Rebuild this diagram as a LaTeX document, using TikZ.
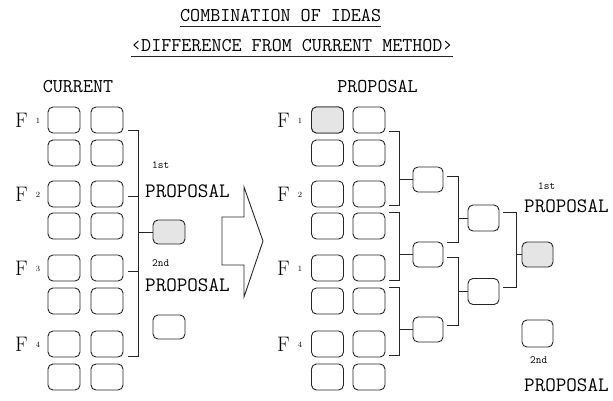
\documentclass[tikz,border=0pt]{standalone}
\usepackage{fontspec}
\usepackage{tikz}
\usetikzlibrary{calc}
\newcommand{\Fnum}[1]{F\hspace{8pt}\raisebox{4pt}{\fontsize{8}{8}\selectfont #1}}
\tikzset{
  idea/.style={draw=black!85, line width=0.9pt, rounded corners=5pt, minimum width=32pt, minimum height=26pt, inner sep=0pt},
  picked/.style={idea, fill=gray!20},
  ttl/.style={font=\fontsize{19.5}{20}\selectfont\ttfamily, inner xsep=0pt, inner ysep=5pt, anchor=base west},
  lbl/.style={font=\fontsize{19.5}{20}\selectfont\ttfamily, inner sep=0pt},
  prop/.style={font=\fontsize{20.5}{21}\selectfont\ttfamily, inner sep=0pt, anchor=west},
  rank/.style={font=\fontsize{11}{11}\selectfont\ttfamily\addfontfeature{LetterSpace=40}, inner sep=0pt, anchor=west},
  fac/.style={font=\fontsize{21}{21}\selectfont, inner sep=0pt, anchor=west},
  link/.style={draw=black!85, line width=0.9pt},
}
\begin{document}
\begin{tikzpicture}[x=1pt, y=-1pt]
\useasboundingbox (0,0) rectangle (613,400);
\node[ttl] (head) at (180,21) {COMBINATION OF IDEAS};
\node[ttl] (subhead) at (131,51) {‹DIFFERENCE FROM CURRENT METHOD›};
\draw[link] (head.south west) -- (head.south east);
\draw[link] (subhead.south west) -- (subhead.south east);
\node[lbl] (cur) at (78,87) {CURRENT};
\node[lbl] (pro) at (377.5,87) {PROPOSAL};
\foreach \r/\y in {1/120,2/153,3/194,4/226,5/268,6/301,7/344,8/377}{
  \node[idea] (cur-\r-1) at (64,\y) {};
  \node[idea] (cur-\r-2) at (107,\y) {};
  \node[idea] (pro-\r-1) at (327.5,\y) {};
  \node[idea] (pro-\r-2) at (369,\y) {};
}
\node[picked] (pro-1-1) at (327.5,120) {};
\node[fac] (fa) at (15,120) {\Fnum{1}};
\node[fac] (fb) at (15,194) {\Fnum{2}};
\node[fac] (fc) at (15,268) {\Fnum{3}};
\node[fac] (fd) at (15,344) {\Fnum{4}};
\node[fac] (ga) at (277,120) {\Fnum{1}};
\node[fac] (gb) at (277,194) {\Fnum{2}};
\node[fac] (gc) at (277,268) {\Fnum{1}};
\node[fac] (gd) at (277,344) {\Fnum{4}};
% current method
\node[picked, minimum height=24pt] (first) at (169,232) {};
\node[idea, minimum height=24pt] (second) at (169,327) {};
\draw[link] ($(cur-1-2.south east)+(5,-3)$) -- ++(10,0) |- ($(cur-7-2.south east)+(5,-1)$);
\draw[link] ($(cur-3-2.east)+(5,2)$) -- ++(10,0);
\draw[link] ($(cur-5-2.east)+(5,3)$) -- ++(10,0);
\draw[link] (first.west) -- ++(-15,0);
\node[rank] (firstno) at (152,165) {1st};
\node[prop] (firsttxt) at (145,191) {PROPOSAL};
\node[rank] (secondno) at (152,263) {2nd};
\node[prop] (secondtxt) at (145,285) {PROPOSAL};
\draw[link] (222,217) -- (244,217) -- (244,187) -- (263,241) -- (244,297) -- (244,265) -- (222,265) -- cycle;
% proposal
\node[idea, minimum width=30pt, minimum height=25pt] (sel-1) at (428,179.5) {};
\node[idea, minimum width=30pt, minimum height=25pt] (sel-2) at (428,254.5) {};
\node[idea, minimum width=30pt, minimum height=25pt] (sel-3) at (428,329.5) {};
\node[idea, minimum width=31pt] (semi-1) at (483.5,218) {};
\node[idea, minimum width=31pt] (semi-2) at (483.5,291.5) {};
\node[picked, minimum width=31pt, minimum height=25pt] (best) at (537.5,254.5) {};
\node[idea, minimum width=31pt, minimum height=27pt] (alt) at (537.5,333.5) {};
\draw[link] ($(pro-1-2.south east)+(4,-2)$) -- ++(10,0) |- ($(pro-3-2.south east)+(4,-2)$);
\draw[link] ($(pro-4-2.north east)+(4,0)$) -- ++(10,0) |- ($(pro-5-2.south east)+(4,-1)$);
\draw[link] ($(pro-6-2.north east)+(4,0)$) -- ++(10,0) |- ($(pro-7-2.south east)+(4,-2)$);
\draw[link] (sel-1.west) -- ++(-14,0);
\draw[link] (sel-2.west) -- ++(-14,0);
\draw[link] (sel-3.west) -- ++(-14,0);
\draw[link] ($(sel-1.east)+(4,-3)$) -- ++(11,0) |- ($(sel-2.north east)+(4,1)$);
\draw[link] ($(sel-2.east)+(4,3)$) -- ++(11,0) |- ($(sel-3.east)+(4,-4)$);
\draw[link] (semi-1.west) -- ++(-10,0);
\draw[link] (semi-2.west) -- ++(-10,0);
\draw[link] ($(semi-1.east)+(4,-6)$) -- ++(13,0) |- ($(semi-2.east)+(4,-4)$);
\draw[link] (best.west) -- ++(-6,0);
\node[rank] (bestno) at (538,186) {1st};
\node[prop] (besttxt) at (524,206) {PROPOSAL};
\node[rank] (altno) at (530,360) {2nd};
\node[prop] (alttxt) at (524,385) {PROPOSAL};
\end{tikzpicture}
\end{document}
